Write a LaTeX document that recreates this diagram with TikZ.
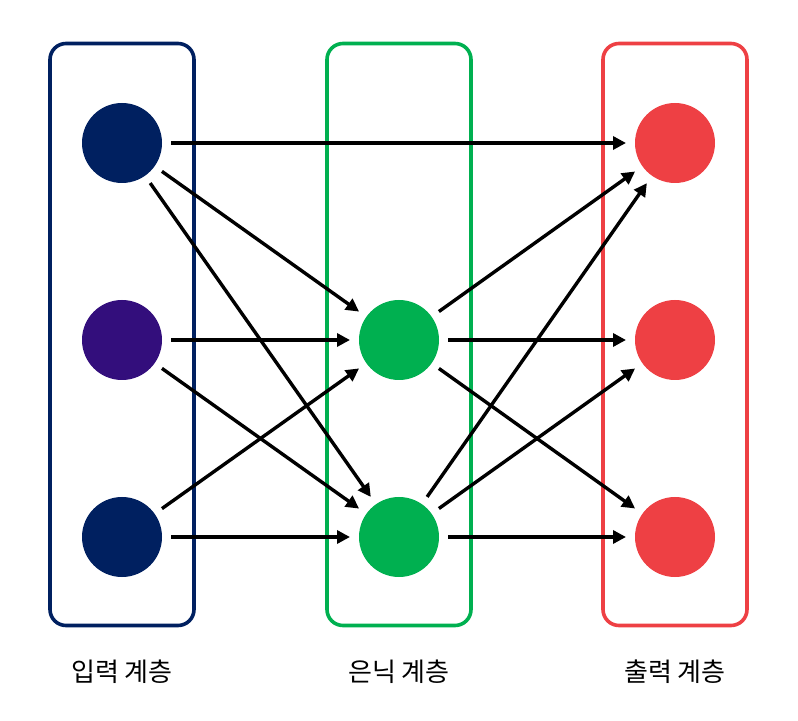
\documentclass[tikz,border=0pt]{standalone}
\usepackage{fontspec}
\newfontfamily\krfont{Noto Sans CJK KR}
\usetikzlibrary{arrows.meta,positioning}
\definecolor{innavy}{HTML}{002060}
\definecolor{inpurple}{HTML}{330E7C}
\definecolor{hidgreen}{HTML}{00B050}
\definecolor{outred}{HTML}{EE4044}
\tikzset{neuron/.style={circle,minimum size=40pt,inner sep=0pt,outer sep=4.5pt},layerbox/.style={rounded corners=8pt,line width=1.8pt,minimum width=72pt,minimum height=291pt,inner sep=0pt},link/.style={-{Triangle[length=6.5pt,width=6.5pt]},line width=1.7pt},caption/.style={font=\krfont\fontsize{13}{15}\selectfont}}
\begin{document}
\begin{tikzpicture}[x=0.5pt,y=-0.5pt]
\useasboundingbox (0,0) rectangle (798,721);
\foreach \l/\x/\c in {I/122/innavy,H/399/hidgreen,O/675/outred}{\node[layerbox,draw=\c] (box\l) at (\x,334.5) {};}
\node[neuron,fill=innavy] (i1) at (122,143) {};
\node[neuron,fill=inpurple] (i2) at (122,340) {};
\node[neuron,fill=innavy] (i3) at (122,537) {};
\node[neuron,fill=hidgreen] (h1) at (399,340) {};
\node[neuron,fill=hidgreen] (h2) at (399,537) {};
\foreach \n/\y in {1/143,2/340,3/537}{\node[neuron,fill=outred] (o\n) at (675,\y) {};}
\draw[link] (i1)--(o1);
\foreach \a in {i1,i2,i3}{\draw[link] (\a)--(h1);\draw[link] (\a)--(h2);}
\foreach \b in {o1,o2,o3}{\draw[link] (h1)--(\b);\draw[link] (h2)--(\b);}
\node[caption] (capI) at (122,672) {입력 계층};
\node[caption] (capH) at (399,672) {은닉 계층};
\node[caption] (capO) at (675,672) {출력 계층};
\end{tikzpicture}
\end{document}
